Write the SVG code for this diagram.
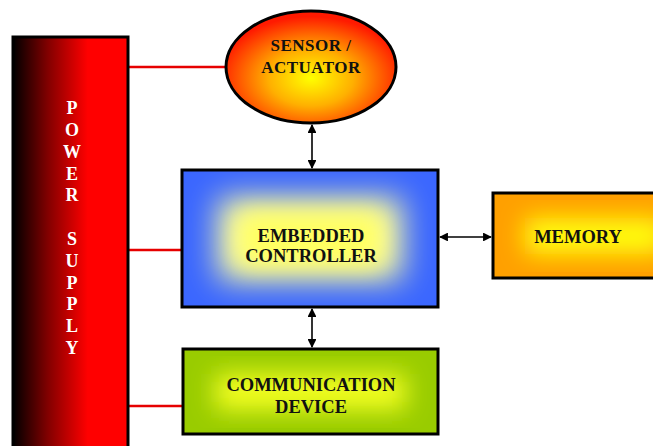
<svg xmlns="http://www.w3.org/2000/svg" width="653" height="446" viewBox="0 0 653 446">
<style>
.box{stroke:#000;stroke-width:3}
.lbl{font-family:"Liberation Serif","Times New Roman",serif;font-weight:bold;fill:#111;text-anchor:middle}
.pw{font-family:"Liberation Serif","Times New Roman",serif;font-weight:bold;fill:#fff;text-anchor:middle;font-size:18px}
.red{stroke:#e60000;stroke-width:2.5;fill:none}
.arr{stroke:#000;stroke-width:1.6;fill:none;marker-start:url(#ah);marker-end:url(#ah)}
</style>
<defs>
<linearGradient id="gPow" x1="0" y1="0" x2="1" y2="0">
<stop offset="0" stop-color="#000"/>
<stop offset="0.3" stop-color="#800000"/>
<stop offset="0.65" stop-color="#ff0000"/>
<stop offset="1" stop-color="#ff0000"/>
</linearGradient>
<radialGradient id="gSen" cx="0.5" cy="0.6" r="0.55">
<stop offset="0" stop-color="#ffff00"/>
<stop offset="0.45" stop-color="#ffb000"/>
<stop offset="1" stop-color="#ff1a00"/>
</radialGradient>
<filter id="bl" x="-50%" y="-50%" width="200%" height="200%"><feGaussianBlur stdDeviation="16"/></filter>
<filter id="bl2" x="-50%" y="-50%" width="200%" height="200%"><feGaussianBlur stdDeviation="12"/></filter>
<clipPath id="cCtl"><rect x="182" y="170" width="256" height="137"/></clipPath>
<clipPath id="cMem"><rect x="493" y="193" width="180" height="85"/></clipPath>
<clipPath id="cCom"><rect x="183" y="349" width="255" height="85"/></clipPath>
<marker id="ah" viewBox="0 0 10 10" refX="9" refY="5" markerWidth="5.5" markerHeight="5.5" orient="auto-start-reverse">
<path d="M0,0 L10,5 L0,10 z" fill="#000"/>
</marker>
</defs>

<g id="connectors">
<line class="red" x1="128" y1="67" x2="227" y2="67"/>
<line class="red" x1="128" y1="250" x2="182" y2="250"/>
<line class="red" x1="128" y1="406" x2="183" y2="406"/>
<line class="arr" x1="312" y1="125" x2="312" y2="168"/>
<line class="arr" x1="312" y1="309" x2="312" y2="347"/>
<line class="arr" x1="440" y1="237" x2="491" y2="237"/>
</g>

<g id="power-supply">
<rect class="box" x="13" y="37" width="115" height="430" fill="url(#gPow)"/>
<text class="pw" x="72" y="114">P</text>
<text class="pw" x="72" y="136">O</text>
<text class="pw" x="72" y="158">W</text>
<text class="pw" x="72" y="180">E</text>
<text class="pw" x="72" y="201">R</text>
<text class="pw" x="72" y="245">S</text>
<text class="pw" x="72" y="267">U</text>
<text class="pw" x="72" y="289">P</text>
<text class="pw" x="72" y="310">P</text>
<text class="pw" x="72" y="332">L</text>
<text class="pw" x="72" y="354">Y</text>
</g>

<g id="sensor-actuator">
<ellipse class="box" cx="311" cy="67" rx="85" ry="56" fill="url(#gSen)"/>
<text class="lbl" font-size="17" x="311" y="51" letter-spacing="0.5">SENSOR /</text>
<text class="lbl" font-size="17" x="311" y="73" letter-spacing="0.5">ACTUATOR</text>
</g>

<g id="embedded-controller">
<rect x="182" y="170" width="256" height="137" fill="#3a66ff"/>
<g clip-path="url(#cCtl)">
<rect x="218" y="198" width="184" height="82" fill="#ffffa0" filter="url(#bl)"/>
<rect x="240" y="212" width="140" height="54" fill="#ffff60" filter="url(#bl2)"/>
</g>
<rect class="box" x="182" y="170" width="256" height="137" fill="none"/>
<text class="lbl" font-size="18.5" x="311" y="242">EMBEDDED</text>
<text class="lbl" font-size="18.5" x="311" y="262">CONTROLLER</text>
</g>

<g id="memory">
<rect x="493" y="193" width="180" height="85" fill="#ffa000"/>
<g clip-path="url(#cMem)"><rect x="525" y="218" width="140" height="36" fill="#ffff10" filter="url(#bl2)"/></g>
<rect class="box" x="493" y="193" width="180" height="85" fill="none"/>
<text class="lbl" font-size="18.5" x="578" y="243">MEMORY</text>
</g>

<g id="communication-device">
<rect x="183" y="349" width="255" height="85" fill="#99cc00"/>
<g clip-path="url(#cCom)"><rect x="215" y="374" width="191" height="36" fill="#f4ff20" filter="url(#bl2)"/></g>
<rect class="box" x="183" y="349" width="255" height="85" fill="none"/>
<text class="lbl" font-size="18.5" x="311" y="391">COMMUNICATION</text>
<text class="lbl" font-size="18.5" x="311" y="413">DEVICE</text>
</g>
</svg>
